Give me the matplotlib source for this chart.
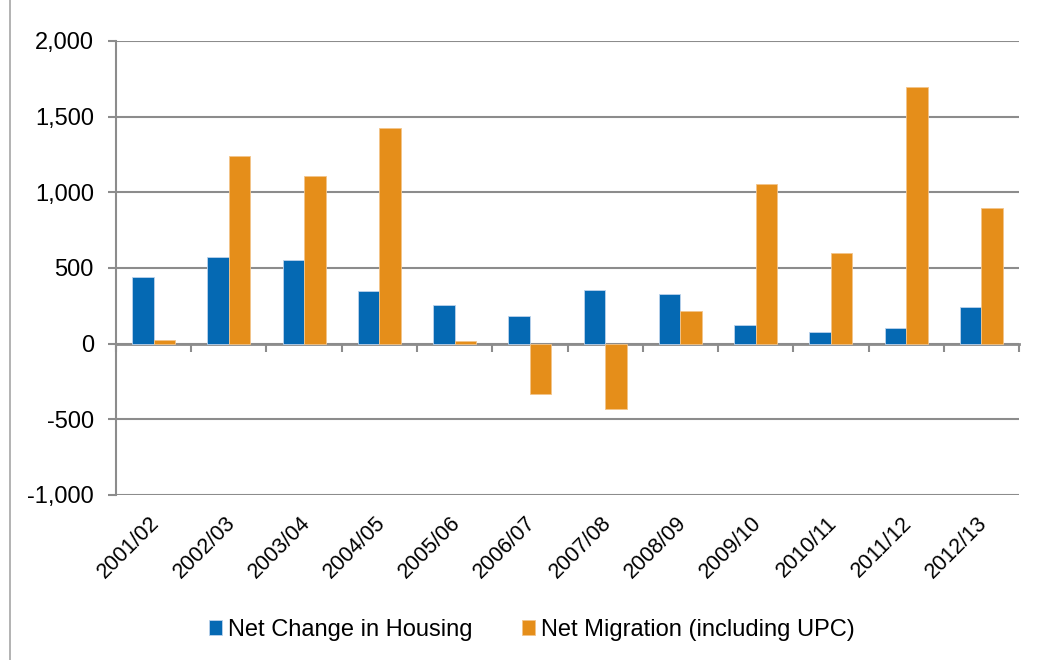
import numpy as np
import matplotlib.pyplot as plt
from matplotlib.patches import Rectangle
from matplotlib.transforms import ScaledTranslation

plt.rcParams['font.family'] = ['Liberation Sans', 'DejaVu Sans']

years = ['2001/02', '2002/03', '2003/04', '2004/05', '2005/06', '2006/07',
         '2007/08', '2008/09', '2009/10', '2010/11', '2011/12', '2012/13']
housing = [440, 570, 555, 350, 258, 185, 355, 330, 125, 80, 105, 245]
migration = [25, 1242, 1110, 1427, 20, -330, -430, 218, 1057, 601, 1699, 899]

blue = '#0569B3'
orange = '#E58E1A'
grey = '#8C8C8C'

fig = plt.figure(figsize=(10.42, 6.6), dpi=100)
ax = fig.add_axes([0.1113, 0.25, 0.8667, 0.6879])

# chart frame
fig.patches.append(Rectangle((10 / 1042, -0.01), 1.1, 1.1, transform=fig.transFigure,
                             fill=False, edgecolor='#A6A6A6', lw=1.2))

x = np.arange(len(years))
w = 0.286
ax.bar(x - w / 2, housing, w, color=blue, edgecolor='#BCD3EC', lw=0.6,
       label='Net Change in Housing', zorder=3)
ax.bar(x + w / 2, migration, w, color=orange, edgecolor='#F3C48A', lw=0.6,
       label='Net Migration (including UPC)', zorder=3)

ax.set_xlim(-0.5, len(years) - 0.5)
ax.set_ylim(-1000, 2000)
ax.set_yticks(np.arange(-1000, 2001, 500))
ax.set_yticklabels([f'{v:,}' for v in range(-1000, 2001, 500)])
ax.yaxis.grid(True, color=grey, lw=1.5, zorder=0)
ax.set_axisbelow(True)

for s in ['top', 'right']:
    ax.spines[s].set_visible(False)
ax.spines['left'].set_color(grey)
ax.spines['left'].set_linewidth(1.5)
ax.spines['bottom'].set_visible(False)
ax.tick_params(axis='y', length=6, width=1.5, color=grey, labelsize=17, pad=10)

ax.set_xticks(x)
ax.set_xticklabels(years, rotation=45, ha='right', va='center', rotation_mode='anchor')
ax.tick_params(axis='x', length=0, labelsize=15.5, pad=18)
shift = ScaledTranslation(3 / 100, 0, fig.dpi_scale_trans)
for lab in ax.get_xticklabels():
    lab.set_transform(lab.get_transform() + shift)

# zero line with category ticks
zero = ax.secondary_xaxis(1000 / 3000)
zero.set_xticks(np.arange(len(years) + 1) - 0.5)
zero.set_xticklabels([])
zero.spines['bottom'].set_color(grey)
zero.spines['bottom'].set_linewidth(2)
zero.tick_params(axis='x', length=6, width=1.5, color=grey, direction='out')

ax.legend(loc='center', bbox_to_anchor=(0.461, -0.297), ncol=2, frameon=False,
          fontsize=17, handlelength=0.55, handleheight=0.55, handletextpad=0.25,
          columnspacing=2.1)

fig.savefig('out.png', dpi=100)
